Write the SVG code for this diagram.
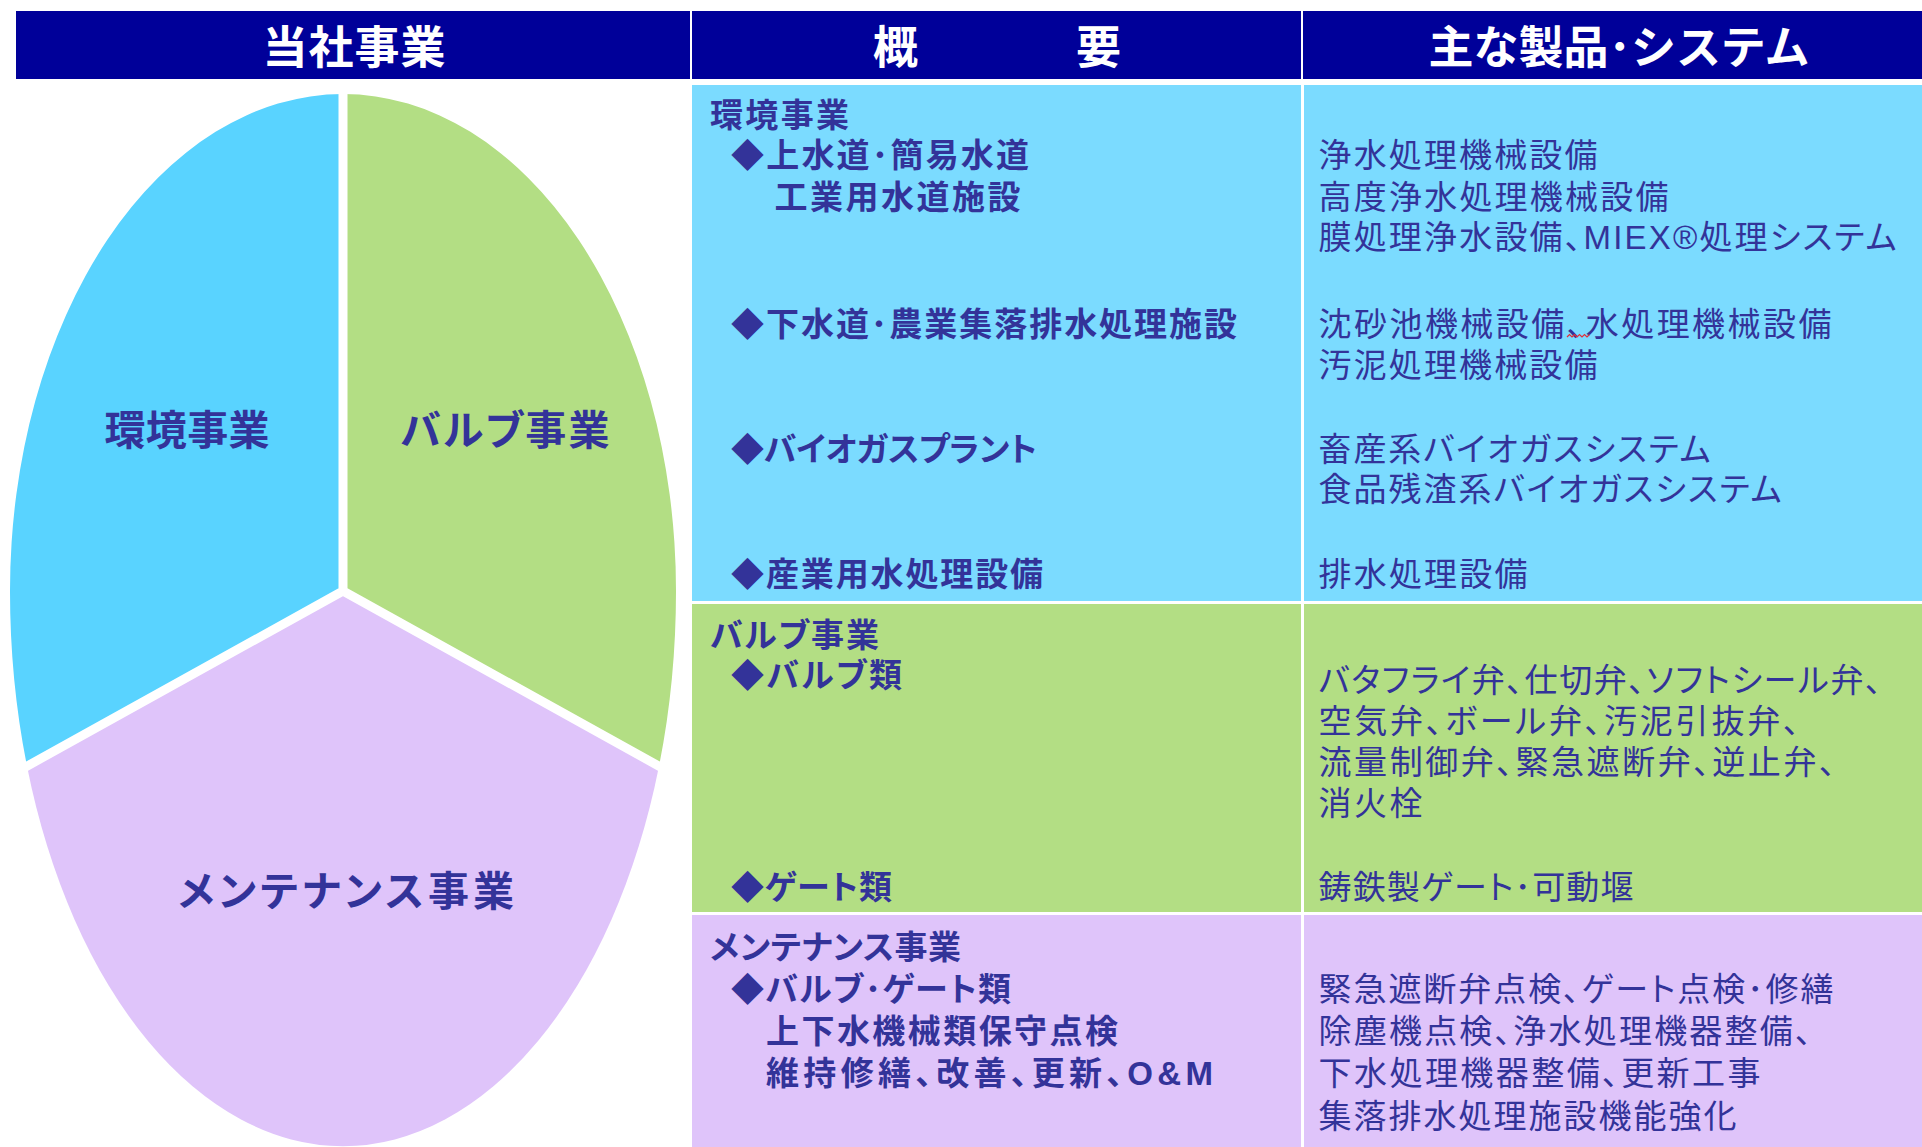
<svg xmlns="http://www.w3.org/2000/svg" width="1922" height="1147" viewBox="0 0 1922 1147">
<style>
text { font-family: "Liberation Sans", "Noto Sans CJK JP", sans-serif; }
.hd { font-size: 45px; font-weight: 700; fill: #ffffff; text-anchor: middle; }
.t { font-size: 33px; fill: #333399; font-feature-settings: "palt"; }
.b { font-weight: 700; }
.pl { font-size: 41px; font-weight: 700; fill: #333399; text-anchor: middle; font-feature-settings: "palt"; }
.cb { fill: #7BDBFF; }
.cg { fill: #B3DE84; }
.cp { fill: #DFC4FA; }
</style>
<rect width="1922" height="1147" fill="#ffffff"/>

<g id="header">
  <rect x="16" y="11" width="1906" height="68" fill="#000099"/>
  <line x1="691" y1="11" x2="691" y2="79" stroke="#ffffff" stroke-width="2"/>
  <line x1="1302" y1="11" x2="1302" y2="79" stroke="#ffffff" stroke-width="2"/>
  <text class="hd" x="354" y="64" textLength="183" lengthAdjust="spacing">当社事業</text>
  <text class="hd" x="997" y="64" textLength="248" lengthAdjust="spacing">概　　　要</text>
  <text class="hd" x="1619" y="64" textLength="381" lengthAdjust="spacing">主な製品･システム</text>
</g>

<g id="pie">
  <g id="pie-env">
    <path d="M343,591 L343,94 A333,497 0 0 0 10,591 A333,555 0 0 0 27,766.2 Z" fill="#59D3FF"/>
    <text class="pl" x="187" y="445" textLength="165" lengthAdjust="spacing">環境事業</text>
  </g>
  <g id="pie-valve">
    <path d="M343,591 L343,94 A333,497 0 0 1 676,591 A333,555 0 0 1 659,766.2 Z" fill="#B3DE84"/>
    <text class="pl" x="505" y="445" textLength="209" lengthAdjust="spacing">バルブ事業</text>
  </g>
  <g id="pie-maint">
    <path d="M343,591 L27,766.2 A333,555 0 0 0 659,766.2 Z" fill="#DFC4FA"/>
    <text class="pl" x="346" y="906" textLength="336" lengthAdjust="spacing">メンテナンス事業</text>
  </g>
  <path d="M343,90 L343,591 M21,769.5 L343,591 L665,769.5" fill="none" stroke="#ffffff" stroke-width="9" stroke-linejoin="miter"/>
</g>

<g id="row-env">
  <rect class="cb" x="692" y="85" width="609" height="516"/>
  <rect class="cb" x="1304" y="85" width="618" height="516"/>
  <text class="t b" x="710" y="126.5" textLength="139" lengthAdjust="spacing">環境事業</text>
  <text class="t b" x="731" y="167" textLength="298" lengthAdjust="spacing">◆上水道･簡易水道</text>
  <text class="t b" x="774.5" y="209" textLength="246" lengthAdjust="spacing">工業用水道施設</text>
  <text class="t b" x="731" y="335.5" textLength="506" lengthAdjust="spacing">◆下水道･農業集落排水処理施設</text>
  <text class="t b" x="731" y="461" textLength="306" lengthAdjust="spacing">◆バイオガスプラント</text>
  <text class="t b" x="731" y="586" textLength="312" lengthAdjust="spacing">◆産業用水処理設備</text>
  <text class="t" x="1318.5" y="167" textLength="279" lengthAdjust="spacing">浄水処理機械設備</text>
  <text class="t" x="1318.5" y="209" textLength="350" lengthAdjust="spacing">高度浄水処理機械設備</text>
  <text class="t" x="1318.5" y="249" textLength="578" lengthAdjust="spacing">膜処理浄水設備、MIEX®処理システム</text>
  <text class="t" x="1318.5" y="335.5" textLength="513" lengthAdjust="spacing">沈砂池機械設備、水処理機械設備</text>
  <path d="M1567,337 l2.5,-2.5 l2.5,2.5 l2.5,-2.5 l2.5,2.5 l2.5,-2.5 l2.5,2.5 l2.5,-2.5 l2.5,2.5 l2.5,-2.5" fill="none" stroke="#e0303a" stroke-width="1.2"/>
  <text class="t" x="1318.5" y="377" textLength="279" lengthAdjust="spacing">汚泥処理機械設備</text>
  <text class="t" x="1318.5" y="461" textLength="392" lengthAdjust="spacing">畜産系バイオガスシステム</text>
  <text class="t" x="1318.5" y="501" textLength="463" lengthAdjust="spacing">食品残渣系バイオガスシステム</text>
  <text class="t" x="1318.5" y="586" textLength="209" lengthAdjust="spacing">排水処理設備</text>
</g>

<g id="row-valve">
  <rect class="cg" x="692" y="604" width="609" height="308"/>
  <rect class="cg" x="1304" y="604" width="618" height="308"/>
  <text class="t b" x="710" y="646.5" textLength="169" lengthAdjust="spacing">バルブ事業</text>
  <text class="t b" x="731" y="687" textLength="171" lengthAdjust="spacing">◆バルブ類</text>
  <text class="t b" x="731" y="899" textLength="161" lengthAdjust="spacing">◆ゲート類</text>
  <text class="t" x="1318.5" y="692" textLength="563" lengthAdjust="spacing">バタフライ弁、仕切弁、ソフトシール弁、</text>
  <text class="t" x="1318.5" y="733" textLength="481" lengthAdjust="spacing">空気弁、ボール弁、汚泥引抜弁、</text>
  <text class="t" x="1318.5" y="774" textLength="517" lengthAdjust="spacing">流量制御弁、緊急遮断弁、逆止弁、</text>
  <text class="t" x="1318.5" y="815" textLength="104" lengthAdjust="spacing">消火栓</text>
  <text class="t" x="1318.5" y="899" textLength="315" lengthAdjust="spacing">鋳鉄製ゲート･可動堰</text>
</g>

<g id="row-maint">
  <rect class="cp" x="692" y="915" width="609" height="232"/>
  <rect class="cp" x="1304" y="915" width="618" height="232"/>
  <text class="t b" x="710" y="959" textLength="251" lengthAdjust="spacing">メンテナンス事業</text>
  <text class="t b" x="731" y="1001" textLength="280" lengthAdjust="spacing">◆バルブ･ゲート類</text>
  <text class="t b" x="766" y="1043" textLength="352" lengthAdjust="spacing">上下水機械類保守点検</text>
  <text class="t b" x="766" y="1085" textLength="447" lengthAdjust="spacing">維持修繕、改善、更新、O&amp;M</text>
  <text class="t" x="1318.5" y="1001" textLength="515" lengthAdjust="spacing">緊急遮断弁点検、ゲート点検･修繕</text>
  <text class="t" x="1318.5" y="1043" textLength="493" lengthAdjust="spacing">除塵機点検、浄水処理機器整備、</text>
  <text class="t" x="1318.5" y="1085" textLength="442" lengthAdjust="spacing">下水処理機器整備、更新工事</text>
  <text class="t" x="1318.5" y="1128" textLength="418" lengthAdjust="spacing">集落排水処理施設機能強化</text>
</g>

<g id="connectors"></g>
</svg>
